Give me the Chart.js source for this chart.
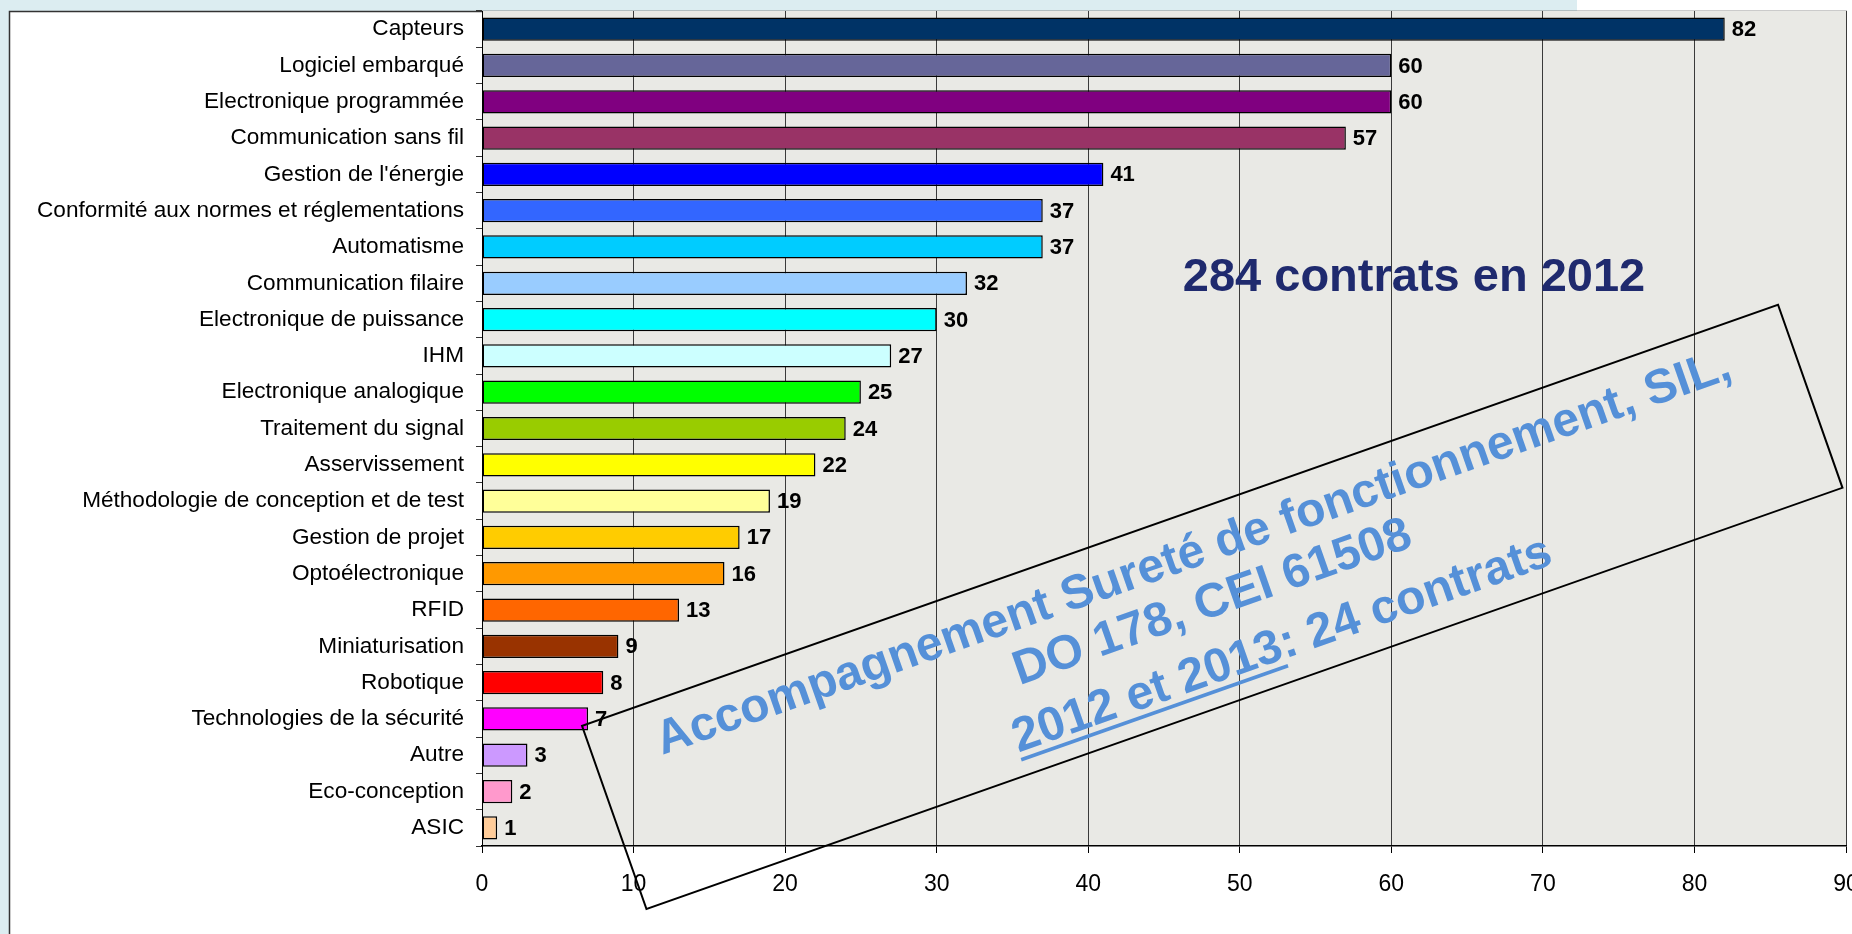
<!DOCTYPE html>
<html lang="fr">
<head>
<meta charset="utf-8">
<title>Contrats par thème</title>
<script src="https://cdn.jsdelivr.net/npm/chart.js@4.4.1/dist/chart.umd.min.js"></script>
<style>
    html, body { margin: 0; padding: 0; background: #ffffff; }
    #wrap { position: relative; width: 1852px; height: 934px; }
</style>
</head>
<body>
<div id="wrap"><canvas id="contractsChart"></canvas></div>
<script>
// Données du graphique
const categories = [
    'Capteurs', 'Logiciel embarqué', 'Electronique programmée', 'Communication sans fil',
    "Gestion de l'énergie", 'Conformité aux normes et réglementations', 'Automatisme',
    'Communication filaire', 'Electronique de puissance', 'IHM', 'Electronique analogique',
    'Traitement du signal', 'Asservissement', 'Méthodologie de conception et de test',
    'Gestion de projet', 'Optoélectronique', 'RFID', 'Miniaturisation', 'Robotique',
    'Technologies de la sécurité', 'Autre', 'Eco-conception', 'ASIC'
];
const contracts = [82, 60, 60, 57, 41, 37, 37, 32, 30, 27, 25, 24, 22, 19, 17, 16, 13, 9, 8, 7, 3, 2, 1];
const barColors = [
    '#003366', '#666699', '#800080', '#993366', '#0000FF', '#3366FF', '#00CCFF',
    '#99CCFF', '#00FFFF', '#CCFFFF', '#00FF00', '#99CC00', '#FFFF00', '#FFFF99',
    '#FFCC00', '#FF9900', '#FF6600', '#993300', '#FF0000', '#FF00FF', '#CC99FF',
    '#FF99CC', '#FFCC99'
];
const xMin = 0;
const xMax = 90;
const xStep = 10;

// Textes ajoutés sur le graphique
const headline = '284 contrats en 2012';
const boxLines = [
    'Accompagnement Sureté de fonctionnement, SIL,',
    'DO 178, CEI 61508',
    '2012 et 2013: 24 contrats'
];
const underlined = '2012 et 2013';

const FONT = '"Liberation Sans", Arial, Helvetica, sans-serif';

// Fond de la diapositive + zone de tracé (texture remplacée par une couleur unie)
const backgroundPlugin = {
    id: 'slideBackground',
    beforeDraw(chart) {
        const ctx = chart.ctx;
        const area = chart.chartArea;
        ctx.save();
        ctx.fillStyle = '#ffffff';
        ctx.fillRect(0, 0, chart.width, chart.height);
        // bandeau bleu clair en haut et à gauche
        ctx.fillStyle = '#dcedf1';
        ctx.fillRect(0, 0, 1577, 11);
        ctx.fillRect(0, 0, 9, chart.height);
        // cadre
        ctx.strokeStyle = '#333333';
        ctx.lineWidth = 1.5;
        ctx.beginPath();
        ctx.moveTo(9.5, chart.height);
        ctx.lineTo(9.5, 11.5);
        ctx.lineTo(1847, 11.5);
        ctx.stroke();
        // zone de tracé
        ctx.fillStyle = '#e9e9e5';
        ctx.fillRect(area.left, area.top, area.right - area.left, area.bottom - area.top);
        ctx.restore();
    }
};

// Valeurs en gras au bout des barres
const valueLabelPlugin = {
    id: 'valueLabels',
    afterDatasetsDraw(chart) {
        const ctx = chart.ctx;
        const meta = chart.getDatasetMeta(0);
        ctx.save();
        ctx.font = 'bold 22px ' + FONT;
        ctx.fillStyle = '#000000';
        ctx.textAlign = 'left';
        ctx.textBaseline = 'middle';
        meta.data.forEach(function (bar, i) {
            ctx.fillText(String(contracts[i]), bar.x + 7, bar.y + 1);
        });
        ctx.restore();
    }
};

// Titre "284 contrats" et encadré incliné
const annotationPlugin = {
    id: 'annotations',
    afterDraw(chart) {
        const ctx = chart.ctx;
        const xs = chart.scales.x;
        const ys = chart.scales.y;
        ctx.save();

        ctx.font = 'bold 47px ' + FONT;
        ctx.fillStyle = '#1f2a6e';
        ctx.textAlign = 'center';
        ctx.textBaseline = 'alphabetic';
        ctx.fillText(headline, 1414, 291);

        // coin de l'encadré ancré au bout de la barre "Technologies de la sécurité"
        const ax = xs.getPixelForValue(6.6);
        const ay = ys.getPixelForValue(19) + 7;
        ctx.translate(ax, ay);
        ctx.rotate(-19.4 * Math.PI / 180);
        ctx.strokeStyle = '#000000';
        ctx.lineWidth = 2;
        ctx.strokeRect(0, 0, 1268, 194);

        ctx.font = 'bold 48px ' + FONT;
        ctx.fillStyle = '#5590d8';
        ctx.textAlign = 'left';
        const starts = [[66, 54], [426, 107], [403, 170]];
        boxLines.forEach(function (line, i) {
            ctx.fillText(line, starts[i][0], starts[i][1]);
        });
        const uw = ctx.measureText(underlined).width;
        ctx.fillRect(starts[2][0], starts[2][1] + 6, uw, 3.5);

        ctx.restore();
    }
};

const ctxContracts = document.getElementById('contractsChart').getContext('2d');
const contractsChart = new Chart(ctxContracts, {
    type: 'bar',
    data: {
        labels: categories,
        datasets: [{
            data: contracts,
            backgroundColor: barColors,
            borderColor: '#000000',
            borderWidth: 1.5,
            borderSkipped: false,
            barPercentage: 0.64,
            categoryPercentage: 1.0
        }]
    },
    options: {
        indexAxis: 'y',  // barres horizontales
        responsive: true,
        maintainAspectRatio: false,
        animation: false,
        layout: {
            autoPadding: false,
            padding: { left: 10, top: 11, right: 6, bottom: 0 }
        },
        plugins: {
            legend: { display: false },
            title: { display: false },
            tooltip: { enabled: false }
        },
        scales: {
            x: {
                min: xMin,
                max: xMax,
                ticks: {
                    stepSize: xStep,
                    color: '#000000',
                    padding: 18,
                    font: { family: FONT, size: 23 }
                },
                grid: {
                    color: '#3a3a3a',
                    lineWidth: 1,
                    tickLength: 7,
                    tickColor: '#000000'
                },
                border: { color: '#000000', width: 1.5 },
                afterFit: function (scale) {
                    scale.height = 88;
                    scale.paddingLeft = 0;
                    scale.paddingRight = 0;
                }
            },
            y: {
                ticks: {
                    color: '#000000',
                    padding: 12,
                    autoSkip: false,
                    font: { family: FONT, size: 22.6 }
                },
                grid: {
                    drawOnChartArea: false,
                    tickLength: 6,
                    tickColor: '#333333',
                    offset: true
                },
                border: { color: '#000000', width: 1 },
                afterFit: function (scale) {
                    scale.width = 472;
                    scale.paddingTop = 0;
                    scale.paddingBottom = 0;
                }
            }
        }
    },
    plugins: [backgroundPlugin, valueLabelPlugin, annotationPlugin]
});
</script>
</body>
</html>
